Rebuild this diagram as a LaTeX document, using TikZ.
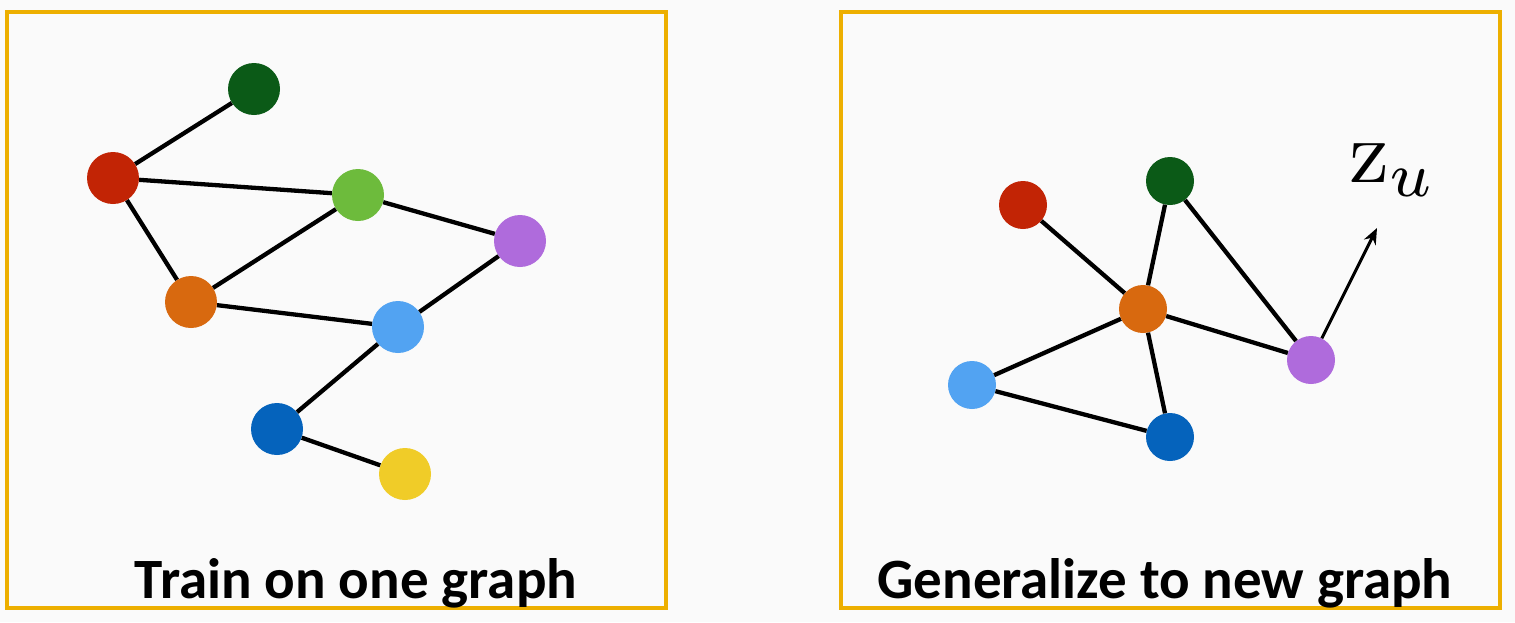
\documentclass[tikz,border=0pt]{standalone}
\usepackage{fontspec}
\setsansfont{Carlito}
\usetikzlibrary{arrows.meta}
\definecolor{bgc}{HTML}{FAFAFA}
\definecolor{boxc}{HTML}{EDAF00}
\definecolor{cdgreen}{HTML}{0B5A17}
\definecolor{cred}{HTML}{C22405}
\definecolor{cgreen}{HTML}{6DBB3C}
\definecolor{corange}{HTML}{D8690F}
\definecolor{clblue}{HTML}{52A3F2}
\definecolor{cblue}{HTML}{0563BC}
\definecolor{cyellow}{HTML}{F0CC28}
\definecolor{cpurple}{HTML}{AF6BDC}
\tikzset{
  frame/.style={draw=boxc, line width=4pt},
  bignode/.style={circle, inner sep=0pt, minimum size=52pt, fill=#1},
  smallnode/.style={circle, inner sep=0pt, minimum size=48pt, fill=#1},
  edge/.style={draw=black, line width=4.3pt},
  caption/.style={font=\sffamily\bfseries\fontsize{57}{62}\selectfont, inner sep=0pt, anchor=base}
}
\begin{document}
\begin{tikzpicture}[x=1pt,y=-1pt]
\fill[bgc] (0,0) rectangle (1515,622);
\useasboundingbox (0,0) rectangle (1515,622);
\draw[frame] (6.5,12) rectangle (666,608);
\draw[frame] (840.5,12) rectangle (1500,608);
% left graph
\node[bignode=cdgreen] (a1) at (254,89) {};
\node[bignode=cred] (a2) at (113,178) {};
\node[bignode=cgreen] (a3) at (358,195) {};
\node[bignode=cpurple] (a4) at (520,241) {};
\node[bignode=corange] (a5) at (191,302) {};
\node[bignode=clblue] (a6) at (398,327) {};
\node[bignode=cblue] (a7) at (277,429) {};
\node[bignode=cyellow] (a8) at (405,474) {};
\path[edge] (a1) -- (a2);
\path[edge] (a2) -- (a3);
\path[edge] (a2) -- (a5);
\path[edge] (a5) -- (a3);
\path[edge] (a3) -- (a4);
\path[edge] (a5) -- (a6);
\path[edge] (a4) -- (a6);
\path[edge] (a6) -- (a7);
\path[edge] (a7) -- (a8);
% right graph
\node[smallnode=cred] (b1) at (1023,205) {};
\node[smallnode=cdgreen] (b2) at (1170,181) {};
\node[smallnode=corange] (b3) at (1143,309) {};
\node[smallnode=cpurple] (b4) at (1311,360) {};
\node[smallnode=clblue] (b5) at (972,385) {};
\node[smallnode=cblue] (b6) at (1170,437) {};
\path[edge] (b1) -- (b3);
\path[edge] (b2) -- (b3);
\path[edge] (b2) -- (b4);
\path[edge] (b3) -- (b4);
\path[edge] (b3) -- (b5);
\path[edge] (b3) -- (b6);
\path[edge] (b5) -- (b6);
\node[inner sep=0pt, scale=9, transform shape=false] (zu) at (1393,170) {$\mathrm{z}_u$};
\coordinate (tip) at (1377,228);
\draw[line width=3pt, -{Stealth[length=16pt,width=13pt]}] (b4) -- (tip);
% captions
\node[caption] (t1) at (356,598) {Train on one graph};
\node[caption] (t2) at (1165,598) {Generalize to new graph};
\end{tikzpicture}
\end{document}
